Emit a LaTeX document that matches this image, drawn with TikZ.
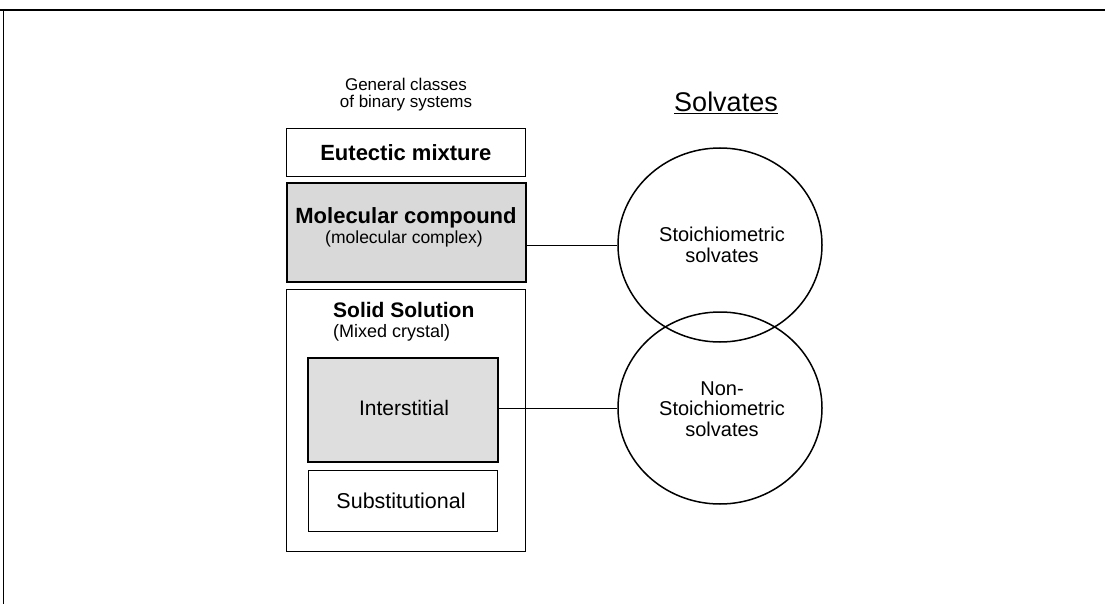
\documentclass[tikz,border=0pt]{standalone}
\usepackage{fontspec}
\setmainfont{Liberation Sans}
\usetikzlibrary{positioning,shapes.geometric}
\tikzset{
  box/.style={draw=black, line width=0.8pt, fill=white, inner sep=0pt, anchor=north west},
  thickbox/.style={draw=black, line width=1.8pt, fill=black!14, inner sep=0pt, anchor=north west},
  lbl/.style={inner sep=0pt, text=black},
  blob/.style={draw=black, line width=1.5pt, ellipse, inner sep=0pt},
  link/.style={draw=black, line width=0.8pt},
}
\newcommand{\fs}[1]{\fontsize{#1}{#1}\selectfont}
\begin{document}
\begin{tikzpicture}[x=1pt,y=-1pt]
\useasboundingbox (0,0) rectangle (1105,604);
% frame
\coordinate (ftl) at (3,10);
\coordinate (fbl) at (3,604);
\coordinate (fl) at (0,10);
\coordinate (fr) at (1105,10);
\draw[line width=1.6pt] (fl) -- (fr);
\draw[line width=0.8pt] (ftl) -- (fbl);
% heading
\node[lbl] (gc1) at (406,84) {\fs{17}General classes};
\node[lbl] (gc2) at (406,103) {\fs{17}of binary systems};
% eutectic
\node[box, minimum width=239pt, minimum height=48pt] (eut) at (286,128) {};
\node[lbl] (eutt) at (eut.center) {\fs{22}\bfseries Eutectic mixture};
% molecular compound
\node[thickbox, fill=black!15, minimum width=239pt, minimum height=99pt] (mol) at (286,182) {};
\node[lbl] (molt1) at (406,218) {\fs{22}\bfseries Molecular compound};
\node[lbl] (molt2) at (404,239) {\fs{17.5}(molecular complex)};
% solid solution
\node[box, minimum width=239pt, minimum height=262pt] (sol) at (286,289) {};
\node[lbl, anchor=west] (solt1) at (333,310) {\fs{21}\bfseries Solid Solution};
\node[lbl, anchor=west] (solt2) at (333,333) {\fs{18}(Mixed crystal)};
% interstitial
\node[thickbox, fill=black!13, minimum width=190pt, minimum height=104pt] (int) at (307,357) {};
\node[lbl] (intt) at (404,408) {\fs{21}Interstitial};
% substitutional
\node[box, minimum width=189pt, minimum height=61pt] (sub) at (308,470) {};
\node[lbl] (subt) at (401,501) {\fs{21.5}Substitutional};
% solvates
\node[lbl] (solv) at (726,103) {\fs{27}\underline{Solvates}};
% circles
\node[blob, minimum width=204pt, minimum height=194pt] (c1) at (720,245) {};
\node[lbl, align=center] (c1t) at (722,245) {\fs{20}Stoichiometric\\[5pt]\fs{20}solvates};
\node[blob, minimum width=204pt, minimum height=192pt] (c2) at (720,408) {};
\node[lbl, align=center] (c2t) at (722,409) {\fs{20}Non-\\[5pt]\fs{20}Stoichiometric\\[5pt]\fs{20}solvates};
% connectors
\draw[link] (mol.east |- c1.west) -- (c1.west);
\draw[link] (int.east |- c2.west) -- (c2.west);
\end{tikzpicture}
\end{document}
